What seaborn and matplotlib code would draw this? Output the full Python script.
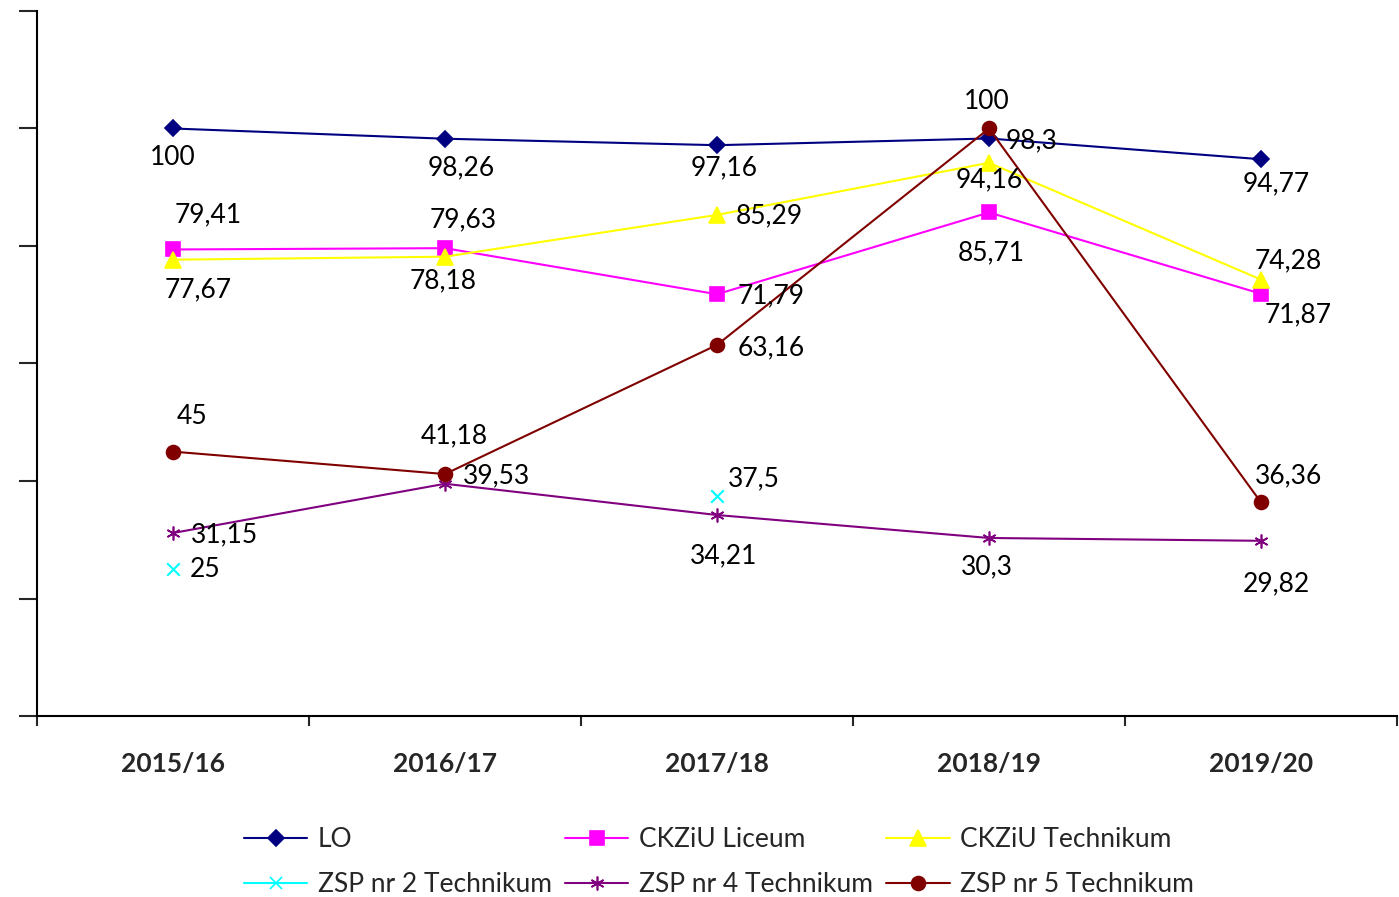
"""
Line chart of school results 2015/16 - 2019/20
"""
import numpy as np
import pandas as pd
import matplotlib
matplotlib.use("Agg")
import matplotlib.pyplot as plt
from matplotlib.lines import Line2D
import seaborn as sns

# Data
years = ["2015/16", "2016/17", "2017/18", "2018/19", "2019/20"]
lo = [100, 98.26, 97.16, 98.3, 94.77]
ckziu_liceum = [79.41, 79.63, 71.79, 85.71, 71.87]
ckziu_technikum = [77.67, 78.18, 85.29, 94.16, 74.28]
zsp2_technikum = [25, np.nan, 37.5, np.nan, np.nan]
zsp4_technikum = [31.15, 39.53, 34.21, 30.3, 29.82]
zsp5_technikum = [45, 41.18, 63.16, 100, 36.36]

series_names = ["LO", "CKZiU Liceum", "CKZiU Technikum",
                "ZSP nr 2 Technikum", "ZSP nr 4 Technikum", "ZSP nr 5 Technikum"]
series_values = [lo, ckziu_liceum, ckziu_technikum,
                 zsp2_technikum, zsp4_technikum, zsp5_technikum]

# Style per series
colors = ["#000080", "#FF00FF", "#FFFF00", "#00FFFF", "#800080", "#800000"]
markers = ["D", "s", "^", "x", (6, 2, 0), "o"]
msizes = [8, 10, 11, 9, 10, 10]
draw_line = [True, True, True, False, True, True]

# label offsets (pixels, from point to label centre)
label_offsets = [
    [(0, -29), (16, -29), (7, -23), (43, -2), (15, -25)],
    [(35, 35), (18, 28), (54, -2), (2, -40), (37, -21)],
    [(25, -30), (-2, -24), (52, -1), (0, -17), (27, 19)],
    [(32, 0), None, (37, 17), None, None],
    [(51, -2), (52, 8), (7, -41), (-2, -29), (15, -43)],
    [(19, 35), (9, 38), (54, -3), (-2, 27), (27, 27)],
]

sns.set_style("ticks")
plt.rcParams['font.family'] = ['Lato', 'DejaVu Sans']

fig = plt.figure(figsize=(13.99, 8.97), dpi=100)
ax = fig.add_axes([37 / 1399, 1 - 716 / 897, 1360 / 1399, 705 / 897])

x_pos = np.arange(len(years))

for name, vals, color, marker, ms, line, offs in zip(
        series_names, series_values, colors, markers, msizes, draw_line, label_offsets):
    df = pd.DataFrame({"x": x_pos, "y": vals})
    if line:
        sns.lineplot(data=df, x="x", y="y", ax=ax, color=color, linewidth=1.5,
                     marker=marker, markersize=ms, markeredgecolor=color,
                     markeredgewidth=1.2, legend=False)
    else:
        d = df.dropna()
        sns.scatterplot(data=d, x="x", y="y", ax=ax, color=color, marker=marker,
                        s=ms ** 2, linewidth=1.5, legend=False)
    for xi, v, off in zip(x_pos, vals, offs):
        if off is None or np.isnan(v):
            continue
        ax.annotate(f"{v:g}".replace(".", ","), (xi, v), xytext=off,
                    textcoords="offset pixels", ha="center", va="center",
                    fontsize=19, color="black")

ax.set_xlim(-0.5, len(years) - 0.5)
ax.set_ylim(0, 120)
ax.set_yticks(np.arange(0, 121, 20))
ax.set_yticklabels([])
ax.set_xticks(np.arange(-0.5, len(years), 1.0))
ax.set_xticklabels([])
ax.set_xticks(x_pos, minor=True)
ax.set_xticklabels(years, minor=True, fontsize=19, fontweight="bold")
ax.tick_params(axis="y", which="major", length=13, width=1.5, direction="out")
ax.tick_params(axis="x", which="major", length=7, width=1.5, direction="out")
ax.tick_params(axis="x", which="minor", length=0, pad=26)
ax.set_xlabel("")
ax.set_ylabel("")
for side in ["top", "right"]:
    ax.spines[side].set_visible(False)
for side in ["left", "bottom"]:
    ax.spines[side].set_linewidth(1.5)
    ax.spines[side].set_color("black")

# Legend (row-wise order)
handles = []
for name, color, marker, ms in zip(series_names, colors, markers, msizes):
    handles.append(Line2D([0], [0], color=color, linewidth=1.5, marker=marker,
                          markersize=ms, markeredgecolor=color,
                          markeredgewidth=1.2, label=name))
order = [0, 3, 1, 4, 2, 5]
fig.legend([handles[i] for i in order], [series_names[i] for i in order],
           loc="center", bbox_to_anchor=(719 / 1399, 1 - 862 / 897), ncol=3,
           frameon=False, fontsize=19, handlelength=2.4, handletextpad=0.4,
           columnspacing=0.5, labelspacing=0.75)

fig.savefig("out.png", dpi=100)
